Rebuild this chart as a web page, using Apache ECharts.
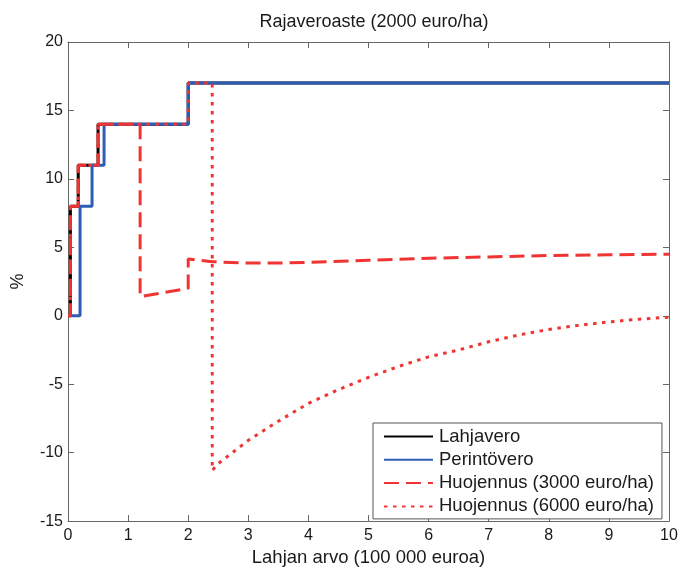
<!DOCTYPE html>
<html>
<head>
<meta charset="utf-8">
<script src="https://cdn.jsdelivr.net/npm/echarts@6/dist/echarts.min.js"></script>
<style>html,body{margin:0;padding:0;background:#fff}#c{width:681px;height:572px}</style>
</head>
<body>
<div id="c"></div>
<script>
const titleText = 'Rajaveroaste (2000 euro/ha)';
const xName = 'Lahjan arvo (100 000 euroa)';
const yName = '%';
const seriesNames = ['Lahjavero', 'Perintövero', 'Huojennus (3000 euro/ha)', 'Huojennus (6000 euro/ha)'];

const giftX = [0, 0.04, 0.04, 0.17, 0.17, 0.5, 0.5, 2, 2, 10];
const giftY = [0, 0, 8, 8, 11, 11, 14, 14, 17, 17];
const inhX = [0, 0.2, 0.2, 0.4, 0.4, 0.6, 0.6, 2, 2, 10];
const inhY = [0, 0, 8, 8, 11, 11, 14, 14, 17, 17];
const relief3000X = [0, 0.04, 0.04, 0.17, 0.17, 0.5, 0.5, 1.2, 1.2, 2, 2, 2.4, 3, 3.5, 4, 5, 6, 7, 8, 9, 10];
const relief3000Y = [0, 0, 8, 8, 11, 11, 14, 14, 1.4, 2.0, 4.15, 3.95, 3.85, 3.85, 3.9, 4.05, 4.2, 4.3, 4.4, 4.45, 4.5];
const relief6000X = [0, 0.04, 0.04, 0.17, 0.17, 0.5, 0.5, 2, 2, 2.4, 2.4, 2.5, 3, 3.5, 4, 4.5, 5, 5.5, 6, 6.5, 7, 7.5, 8, 8.5, 9, 9.5, 10];
const relief6000Y = [0, 0, 8, 8, 11, 11, 14, 14, 17, 17, -11.3, -10.8, -9.1, -7.7, -6.4, -5.4, -4.5, -3.7, -3.0, -2.5, -1.9, -1.4, -1.0, -0.7, -0.45, -0.25, -0.1];

const xMin = 0, xMax = 10, xStep = 1;
const yMin = -15, yMax = 20, yStep = 5;

function pairs(xs, ys) { return xs.map((x, i) => [x, ys[i]]); }

const FONT = '"Liberation Sans", Arial, Helvetica, sans-serif';
const RED = '#f03434';
const BLUE = '#2f5cb4';
const AX = '#666';
const TXT = '#1a1a1a';

const chart = echarts.init(document.getElementById('c'), null, {renderer: 'canvas'});
const tickStyle = {show: true, inside: true, length: 6, lineStyle: {color: AX, width: 1}};
chart.setOption({
  animation: false,
  backgroundColor: '#fff',
  title: {
    text: titleText, left: 369, top: 8, textAlign: 'center',
    textStyle: {fontFamily: FONT, fontSize: 18, fontWeight: 'normal', color: TXT}
  },
  grid: {left: 68, right: 12, top: 42, bottom: 43},
  legend: {
    orient: 'vertical', left: 373, top: 423,
    backgroundColor: '#fff', borderColor: '#555', borderWidth: 1,
    padding: [4, 8, 3, 10], itemGap: 4.3, itemWidth: 49, itemHeight: 16,
    itemStyle: {opacity: 0},
    textStyle: {fontFamily: FONT, fontSize: 18.5, color: TXT, padding: [0, 0, 0, 1]},
    data: seriesNames
  },
  xAxis: [{
    type: 'value', min: xMin, max: xMax, interval: xStep, position: 'bottom',
    name: xName, nameLocation: 'middle', nameGap: 24,
    nameTextStyle: {fontFamily: FONT, fontSize: 18.5, color: TXT},
    axisLine: {show: true, onZero: false, lineStyle: {color: AX, width: 1}},
    axisTick: tickStyle,
    axisLabel: {fontFamily: FONT, fontSize: 16, color: TXT, margin: 6},
    splitLine: {show: false}
  }, {
    type: 'value', min: xMin, max: xMax, interval: xStep, position: 'top',
    axisLine: {show: true, onZero: false, lineStyle: {color: AX, width: 1}},
    axisTick: tickStyle, axisLabel: {show: false}, splitLine: {show: false}
  }],
  yAxis: [{
    type: 'value', min: yMin, max: yMax, interval: yStep, position: 'left',
    name: yName, nameLocation: 'middle', nameGap: 41, nameRotate: 90,
    nameTextStyle: {fontFamily: FONT, fontSize: 18, color: TXT},
    axisLine: {show: true, onZero: false, lineStyle: {color: AX, width: 1}},
    axisTick: tickStyle,
    axisLabel: {fontFamily: FONT, fontSize: 16, color: TXT, margin: 5},
    splitLine: {show: false}
  }, {
    type: 'value', min: yMin, max: yMax, interval: yStep, position: 'right',
    axisLine: {show: true, onZero: false, lineStyle: {color: AX, width: 1}},
    axisTick: tickStyle, axisLabel: {show: false}, splitLine: {show: false}
  }],
  series: [
    {name: seriesNames[0], type: 'line', data: pairs(giftX, giftY), symbol: 'none',
     lineStyle: {color: '#000', width: 3}, itemStyle: {color: '#000'}, z: 2},
    {name: seriesNames[1], type: 'line', data: pairs(inhX, inhY), symbol: 'none',
     lineStyle: {color: BLUE, width: 3}, itemStyle: {color: BLUE}, z: 3},
    {name: seriesNames[2], type: 'line', data: pairs(relief3000X, relief3000Y), symbol: 'none',
     lineStyle: {color: RED, width: 3, type: [15, 7]}, itemStyle: {color: RED}, z: 4},
    {name: seriesNames[3], type: 'line', data: pairs(relief6000X, relief6000Y), symbol: 'none',
     lineStyle: {color: RED, width: 3, type: [3.5, 5.5]}, itemStyle: {color: RED}, z: 5}
  ]
});
</script>
</body>
</html>
